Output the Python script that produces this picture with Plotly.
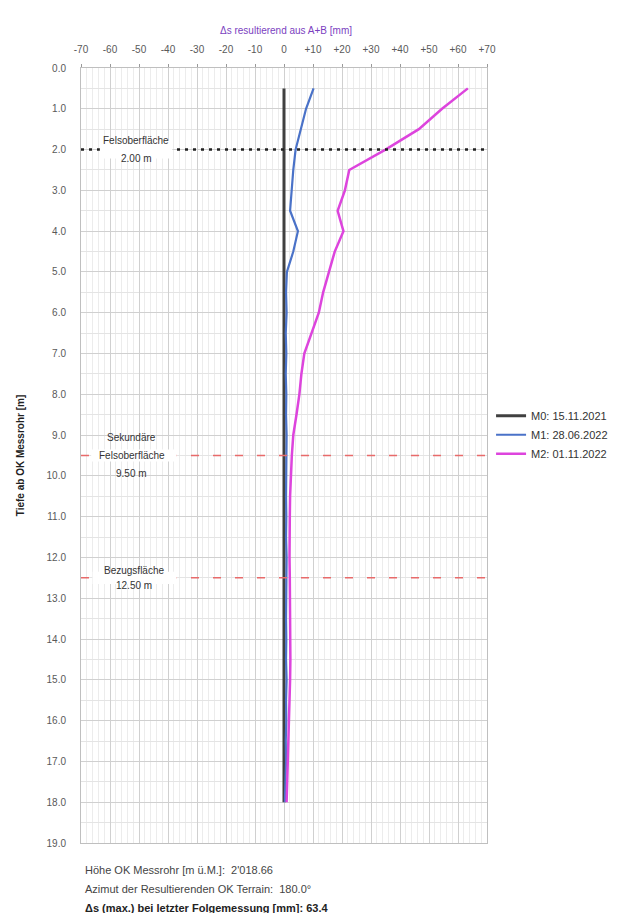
import plotly.graph_objects as go

# ---------------- data ----------------
depth = [0.5, 1.0, 1.5, 2.0, 2.5, 3.0, 3.5, 4.0, 4.5, 5.0, 5.5, 6.0, 6.5, 7.0, 7.5, 8.0, 8.5, 9.0,
         9.5, 10.0, 10.5, 11.0, 11.5, 12.0, 12.5, 13.0, 13.5, 14.0, 14.5, 15.0, 15.5, 16.0, 16.5, 17.0, 17.5, 18.0]

m0_vals = [0.0] * 36
m1_vals = [10.2, 7.6, 5.8, 4.0, 3.2, 2.6, 2.1, 4.8, 3.2, 1.0, 0.7, 0.9, 0.6, 0.8, 0.6, 0.8, 0.7, 0.9,
           0.8, 0.9, 0.7, 0.8, 0.7, 0.9, 0.8, 0.9, 0.7, 0.8, 0.7, 0.9, 0.7, 0.8, 0.6, 0.7, 0.5, 0.3]
m2_vals = [63.4, 54.5, 46.5, 35.0, 22.5, 21.0, 18.5, 20.5, 17.5, 15.5, 13.5, 12.0, 9.5, 7.0, 6.0, 5.3, 4.3, 3.2,
           2.7, 2.3, 2.1, 2.0, 1.9, 1.9, 2.0, 2.1, 2.2, 2.3, 2.2, 2.1, 1.9, 1.8, 1.6, 1.4, 1.2, 0.9]

series_names = ["M0: 15.11.2021", "M1: 28.06.2022", "M2: 01.11.2022"]
series_colors = ["#404040", "#4A72C8", "#DD44DD"]

x_tickvals = [-70, -60, -50, -40, -30, -20, -10, 0, 10, 20, 30, 40, 50, 60, 70]
x_ticktext = ["-70", "-60", "-50", "-40", "-30", "-20", "-10", "0", "+10", "+20", "+30", "+40", "+50", "+60", "+70"]
y_tickvals = list(range(0, 20))
y_ticktext = [f"{v:.1f}" for v in y_tickvals]

layer_depths = [2.0, 9.5, 12.5]

FONT = "Liberation Sans, Arial, sans-serif"

fig = go.Figure()
for vals, name, col, w in zip([m0_vals, m1_vals, m2_vals], series_names, series_colors, [3, 2.2, 2.5]):
    fig.add_trace(go.Scatter(x=vals, y=depth, mode="lines", name=name,
                             line=dict(color=col, width=w)))

# layer boundary lines
fig.add_shape(type="line", xref="x", yref="y", x0=-70, x1=70, y0=layer_depths[0], y1=layer_depths[0],
              line=dict(color="#222222", width=2.5, dash="3px,5px"))
for d in layer_depths[1:]:
    fig.add_shape(type="line", xref="x", yref="y", x0=-70, x1=70, y0=d, y1=d,
                  line=dict(color="#E86A6A", width=1.5, dash="8px,14px"))

# white boxes behind the labels
fig.add_shape(type="rect", xref="x", yref="y", x0=-63.5, x1=-38.5, y0=1.78, y1=2.22,
              fillcolor="white", line=dict(width=0))
fig.add_shape(type="rect", xref="x", yref="y", x0=-66.5, x1=-37.0, y0=9.35, y1=9.65,
              fillcolor="white", line=dict(width=0))
fig.add_shape(type="rect", xref="x", yref="y", x0=-66.0, x1=-37.0, y0=12.35, y1=12.65,
              fillcolor="white", line=dict(width=0))

ann_font = dict(family=FONT, size=10, color="#333333")
labels = [
    ("Felsoberfläche", -51, 1.77), ("2.00 m", -51, 2.22),
    ("Sekundäre", -52.5, 9.06), ("Felsoberfläche", -52.5, 9.5), ("9.50 m", -52.5, 9.94),
    ("Bezugsfläche", -51.8, 12.31), ("12.50 m", -51.8, 12.68),
]
for txt, x, y in labels:
    fig.add_annotation(x=x, y=y, xref="x", yref="y", text=txt, showarrow=False,
                       font=ann_font, xanchor="center", yanchor="middle")

# top title
fig.add_annotation(x=0.505, y=1.049, xref="paper", yref="paper",
                   text="Δs resultierend aus A+B [mm]", showarrow=False,
                   font=dict(family=FONT, size=10, color="#7B3FBF"), xanchor="center", yanchor="middle")

# footer text
foot = [
    ("Höhe OK Messrohr [m ü.M.]:  2'018.66", -0.035, False),
    ("Azimut der Resultierenden OK Terrain:  180.0°", -0.0594, False),
    ("Δs (max.) bei letzter Folgemessung [mm]: 63.4", -0.0839, True),
]
for txt, y, bold in foot:
    fig.add_annotation(x=0.004, y=y, xref="paper", yref="paper",
                       text=f"<b>{txt}</b>" if bold else txt, showarrow=False,
                       font=dict(family=FONT, size=11, color="#222222" if bold else "#444444"),
                       xanchor="left", yanchor="middle")

fig.update_xaxes(side="top", range=[-70, 70], tickvals=x_tickvals, ticktext=x_ticktext,
                 tickfont=dict(family=FONT, size=10, color="#595959"),
                 ticks="outside", ticklen=3, tickcolor="#999999", ticklabelstandoff=7,
                 showgrid=True, gridcolor="#D0D0D0", gridwidth=1,
                 minor=dict(dtick=2, showgrid=True, gridcolor="#ECECEC", gridwidth=1),
                 zeroline=False, showline=True, linecolor="#BFBFBF", mirror=True)
fig.update_yaxes(range=[19, 0], tickvals=y_tickvals, ticktext=y_ticktext,
                 tickfont=dict(family=FONT, size=10, color="#595959"),
                 ticks="", ticklabelstandoff=12,
                 showgrid=True, gridcolor="#D0D0D0", gridwidth=1,
                 minor=dict(dtick=0.5, showgrid=True, gridcolor="#E4E4E4", gridwidth=1),
                 zeroline=False, showline=True, linecolor="#BFBFBF", mirror=True,
                 title=dict(text="<b>Tiefe ab OK Messrohr [m]</b>", standoff=20,
                            font=dict(family=FONT, size=10, color="#222222")))

fig.update_layout(
    width=617, height=913,
    margin=dict(l=66, r=127, t=60, b=78),
    paper_bgcolor="white", plot_bgcolor="white",
    font=dict(family=FONT),
    showlegend=True,
    legend=dict(x=1.01, y=0.57, xanchor="left", yanchor="top",
                font=dict(family=FONT, size=11, color="#333333"),
                itemwidth=30, bgcolor="rgba(0,0,0,0)", tracegroupgap=0),
)

fig.write_html("out.html")
